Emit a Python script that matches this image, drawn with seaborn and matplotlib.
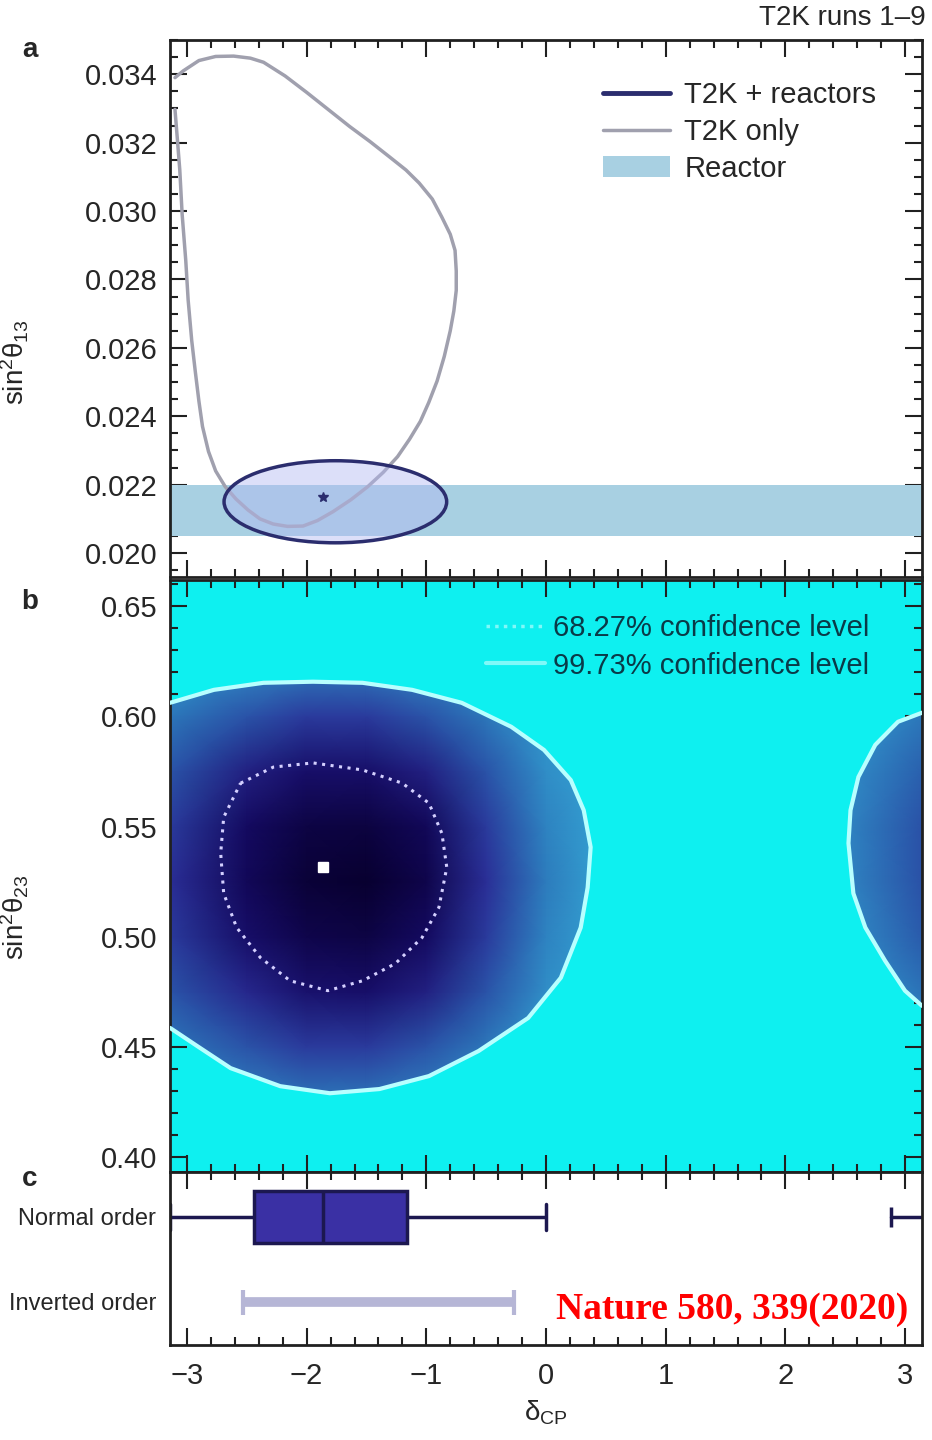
import numpy as np
import pandas as pd
import matplotlib
matplotlib.use("Agg")
import matplotlib.pyplot as plt
import matplotlib.path as mpath
from matplotlib.patches import Ellipse, PathPatch, Patch
from matplotlib.lines import Line2D
from matplotlib.colors import LinearSegmentedColormap
from matplotlib.ticker import MultipleLocator, FormatStrFormatter
import seaborn as sns

sns.set_style("ticks")
plt.rcParams['font.family'] = ['Liberation Sans', 'DejaVu Sans']
plt.rcParams['mathtext.default'] = 'regular'

# ---- panel a: sin^2 theta13 vs delta_CP ----
t2k_dcp = [-3.10, -3.03, -2.90, -2.76, -2.61, -2.47, -2.36, -2.18, -2.00, -1.82, -1.64,
           -1.47, -1.31, -1.17, -1.06, -0.95, -0.87, -0.80, -0.76, -0.75, -0.75, -0.77,
           -0.80, -0.85, -0.91, -0.98, -1.05, -1.14, -1.24, -1.36, -1.49, -1.63, -1.78,
           -1.91, -2.03, -2.16, -2.28, -2.39, -2.49, -2.59, -2.68, -2.76, -2.82, -2.87,
           -2.90, -2.93, -2.96, -2.99, -3.01, -3.04, -3.06, -3.08, -3.10]
t2k_s13 = [0.03390, 0.03410, 0.03440, 0.03452, 0.03453, 0.03447, 0.03435, 0.03395, 0.03347,
           0.03297, 0.03247, 0.03203, 0.03159, 0.03120, 0.03082, 0.03035, 0.02982, 0.02932,
           0.02885, 0.02825, 0.02768, 0.02708, 0.02650, 0.02575, 0.02503, 0.02440, 0.02385,
           0.02333, 0.02282, 0.02236, 0.02194, 0.02156, 0.02121, 0.02095, 0.02079, 0.02078,
           0.02085, 0.02100, 0.02126, 0.02158, 0.02194, 0.02240, 0.02297, 0.02370, 0.02444,
           0.02530, 0.02621, 0.02740, 0.02856, 0.02990, 0.03121, 0.03210, 0.03297]
# T2K + reactors region (centre, full width, full height)
comb_centre = (-1.76, 0.0215)
comb_width = 1.86
comb_height = 0.0024
bestfit_a = (-1.86, 0.02165)
reactor_lo, reactor_hi = 0.0205, 0.0220

# ---- panel b: sin^2 theta23 vs delta_CP ----
outer_left_dcp = [-3.1416, -2.775, -2.361, -1.947, -1.533, -1.118, -0.704, -0.290, -0.017,
                  0.207, 0.315, 0.373, 0.348, 0.290, 0.124, -0.149, -0.563, -0.978,
                  -1.392, -1.806, -2.220, -2.635, -2.916, -3.1416]
outer_left_s23 = [0.6062, 0.6121, 0.6153, 0.6158, 0.6153, 0.6121, 0.6062, 0.5953, 0.5848,
                  0.5711, 0.5574, 0.5406, 0.5223, 0.5041, 0.4813, 0.4630, 0.4480, 0.4366,
                  0.4307, 0.4288, 0.4320, 0.4402, 0.4503, 0.4585]
outer_right_dcp = [3.1416, 2.941, 2.751, 2.610, 2.544, 2.527, 2.568, 2.668, 2.833, 2.999, 3.1416]
outer_right_s23 = [0.6017, 0.5976, 0.5871, 0.5725, 0.5574, 0.5424, 0.5196, 0.5041, 0.4890,
                   0.4754, 0.4685]
inner_dcp = [-2.552, -2.278, -1.947, -1.533, -1.201, -0.978, -0.870, -0.829, -0.895, -1.036,
             -1.259, -1.533, -1.823, -2.138, -2.386, -2.585, -2.693, -2.718, -2.693, -2.552]
inner_s23 = [0.5697, 0.5770, 0.5789, 0.5757, 0.5697, 0.5606, 0.5469, 0.5314, 0.5132, 0.4995,
             0.4877, 0.4799, 0.4754, 0.4799, 0.4904, 0.5041, 0.5196, 0.5378, 0.5542, 0.5697]
bestfit_b = (-1.86, 0.5314)

grid_dcp = [-3.1416, -2.5, -2.0, -1.5, -1.0, -0.5, 0.0, 0.5, 1.0, 1.5, 2.0, 2.5, 3.1416]
grid_s23 = [0.393, 0.425, 0.45, 0.475, 0.50, 0.525, 0.55, 0.575, 0.60, 0.625, 0.662]
density = [
    [0.00, 0.00, 0.00, 0.00, 0.00, 0.00, 0.00, 0.00, 0.00, 0.00, 0.00, 0.00, 0.00],
    [0.05, 0.15, 0.20, 0.20, 0.15, 0.05, 0.00, 0.00, 0.00, 0.00, 0.00, 0.00, 0.05],
    [0.20, 0.35, 0.45, 0.45, 0.35, 0.20, 0.05, 0.00, 0.00, 0.00, 0.00, 0.00, 0.10],
    [0.35, 0.55, 0.70, 0.72, 0.60, 0.35, 0.10, 0.00, 0.00, 0.00, 0.00, 0.05, 0.22],
    [0.45, 0.72, 0.86, 0.90, 0.76, 0.45, 0.15, 0.00, 0.00, 0.00, 0.00, 0.10, 0.32],
    [0.50, 0.80, 0.96, 1.00, 0.86, 0.50, 0.18, 0.00, 0.00, 0.00, 0.00, 0.14, 0.36],
    [0.45, 0.76, 0.90, 0.92, 0.80, 0.45, 0.15, 0.00, 0.00, 0.00, 0.00, 0.14, 0.36],
    [0.35, 0.60, 0.72, 0.72, 0.60, 0.35, 0.10, 0.00, 0.00, 0.00, 0.00, 0.10, 0.30],
    [0.20, 0.35, 0.45, 0.45, 0.35, 0.20, 0.05, 0.00, 0.00, 0.00, 0.00, 0.05, 0.20],
    [0.05, 0.10, 0.15, 0.15, 0.10, 0.05, 0.00, 0.00, 0.00, 0.00, 0.00, 0.00, 0.05],
    [0.00, 0.00, 0.00, 0.00, 0.00, 0.00, 0.00, 0.00, 0.00, 0.00, 0.00, 0.00, 0.00],
]

# ---- panel c: delta_CP intervals ----
orderings = ["Normal order", "Inverted order"]
normal_vals = [-3.1416, -2.44, -1.86, -1.16, 0.0]   # min, q1, median, q3, max
normal_wrap = [2.88, 3.1416]
inverted_ci = [-2.53, -0.27]

# ---------------------------------------------------------------
fig = plt.figure(figsize=(9.32, 14.4), dpi=100)
axa = fig.add_axes([0.1824, 0.5993, 0.8069, 0.3729])
axb = fig.add_axes([0.1824, 0.1861, 0.8069, 0.4111])
axc = fig.add_axes([0.1824, 0.0660, 0.8069, 0.1201])

FS = 21
navy = "#2b2d6e"

# panel a
axa.axhspan(reactor_lo, reactor_hi, color="#a8d0e2", zorder=1, lw=0)
axa.add_patch(Ellipse(comb_centre, comb_width, comb_height, facecolor=(0.70, 0.72, 0.95, 0.45),
                      edgecolor=navy, lw=2.5, zorder=3))
sns.lineplot(x=t2k_dcp, y=t2k_s13, sort=False, estimator=None, color="#a0a0ae", lw=2.5,
             ax=axa, zorder=2)
axa.plot(*bestfit_a, marker="*", color=navy, ms=7, zorder=4)
axa.set_ylim(0.0193, 0.0350)
axa.yaxis.set_major_locator(MultipleLocator(0.002))
axa.yaxis.set_minor_locator(MultipleLocator(0.0005))
axa.yaxis.set_major_formatter(FormatStrFormatter('%.3f'))
axa.set_ylabel(r"sin$^2\theta_{13}$", fontsize=20)
axa.yaxis.set_label_coords(-0.185, 0.40)
handles_a = [Line2D([], [], color=navy, lw=3.5),
             Line2D([], [], color="#a0a0ae", lw=2.5),
             Patch(facecolor="#a8d0e2", edgecolor="none")]
axa.legend(handles_a, ["T2K + reactors", "T2K only", "Reactor"], loc="upper left",
           bbox_to_anchor=(0.56, 0.945), frameon=False, fontsize=21, handlelength=2.3,
           handletextpad=0.5, labelspacing=0.3, borderaxespad=0)

# panel b
axb.set_facecolor("#0ef0f0")
cmap = LinearSegmentedColormap.from_list("t2k", ["#34a4d4", "#2a6cb4", "#2a2e96", "#150a62", "#080030"])
X, Y = np.meshgrid(grid_dcp, grid_s23)
mesh = axb.pcolormesh(X, Y, np.array(density), cmap=cmap, vmin=0, vmax=1, shading="gouraud", zorder=1)
left_poly = list(zip(outer_left_dcp, outer_left_s23))
right_poly = list(zip(outer_right_dcp, outer_right_s23))
verts = left_poly + [left_poly[0]] + right_poly + [right_poly[0]]
codes = ([mpath.Path.MOVETO] + [mpath.Path.LINETO] * (len(left_poly) - 1) + [mpath.Path.CLOSEPOLY] +
         [mpath.Path.MOVETO] + [mpath.Path.LINETO] * (len(right_poly) - 1) + [mpath.Path.CLOSEPOLY])
clip = PathPatch(mpath.Path(verts, codes), transform=axb.transData, facecolor="none")
mesh.set_clip_path(clip)
sns.lineplot(x=outer_left_dcp, y=outer_left_s23, sort=False, estimator=None, color="#b8ffff",
             lw=3, ax=axb, zorder=3)
sns.lineplot(x=outer_right_dcp, y=outer_right_s23, sort=False, estimator=None, color="#b8ffff",
             lw=3, ax=axb, zorder=3)
sns.lineplot(x=inner_dcp, y=inner_s23, sort=False, estimator=None, color="#d4d0ff",
             lw=2.2, linestyle=(0, (1, 1.8)), ax=axb, zorder=3)
axb.plot(*bestfit_b, marker="s", color="white", ms=7, zorder=4)
axb.set_ylim(0.393, 0.662)
axb.yaxis.set_major_locator(MultipleLocator(0.05))
axb.yaxis.set_minor_locator(MultipleLocator(0.01))
axb.yaxis.set_major_formatter(FormatStrFormatter('%.2f'))
axb.set_ylabel(r"sin$^2\theta_{23}$", fontsize=20)
axb.yaxis.set_label_coords(-0.185, 0.43)
handles_b = [Line2D([], [], color="#80f8f8", lw=2.5, linestyle=(0, (1, 1.5))),
             Line2D([], [], color="#80f8f8", lw=3)]
leg = axb.legend(handles_b, ["68.27% confidence level", "99.73% confidence level"], loc="upper left",
                 bbox_to_anchor=(0.405, 0.962), frameon=False, fontsize=21, handlelength=2.0,
                 handletextpad=0.3, labelspacing=0.32, borderaxespad=0)
for t in leg.get_texts():
    t.set_color("#0a3a48")

# panel c
df_c = pd.DataFrame({"dcp": normal_vals, "ordering": ["Normal order"] * len(normal_vals)})
sns.boxplot(data=df_c, x="dcp", y="ordering", order=orderings, whis=np.inf, width=0.62,
            color="#3a30a4", linecolor="#1c1850", linewidth=2.5, saturation=1, ax=axc)
axc.plot(normal_wrap, [0, 0], color="#1c1850", lw=2.5, marker="|", ms=14, mew=2.5,
         markevery=[0])
axc.plot(inverted_ci, [1, 1], color="#b6b6d6", lw=7, solid_capstyle="butt")
axc.plot(inverted_ci, [1, 1], color="#b6b6d6", lw=0, marker="|", ms=18, mew=3)
axc.set_ylim(1.51, -0.53)
axc.set_ylabel("")
axc.set_xlabel(r"$\delta_{CP}$", fontsize=20)
axc.xaxis.set_label_coords(0.5, -0.31)

for ax in (axa, axb, axc):
    ax.set_xlim(-np.pi, np.pi)
    ax.xaxis.set_major_locator(MultipleLocator(1))
    ax.xaxis.set_minor_locator(MultipleLocator(0.2))
    ax.tick_params(which="both", direction="in", top=True, right=True, width=1.5, color="#202020")
    ax.tick_params(which="major", length=12)
    ax.tick_params(which="minor", length=6)
    for s in ax.spines.values():
        s.set_linewidth(2)
        s.set_color("#202020")
for ax in (axa, axb):
    ax.tick_params(axis="x", labelbottom=False)
    ax.tick_params(axis="y", labelsize=FS, pad=9)
    ax.set_xlabel("")
axc.tick_params(axis="y", which="both", length=0, right=False, labelsize=17, pad=10)
axc.tick_params(axis="x", labelsize=FS, pad=12)

fig.text(0.032, 0.965, "a", fontsize=20, fontweight="bold", ha="center", va="center")
fig.text(0.032, 0.582, "b", fontsize=20, fontweight="bold", ha="center", va="center")
fig.text(0.032, 0.181, "c", fontsize=20, fontweight="bold", ha="center", va="center")
fig.text(0.993, 0.9875, "T2K runs 1\u20139", fontsize=20, ha="right", va="center")
fig.text(0.974, 0.0903, "Nature 580, 339(2020)", fontsize=27, fontweight="bold", color="red",
         family="Liberation Serif", ha="right", va="center")

fig.savefig("out.png", dpi=100)
